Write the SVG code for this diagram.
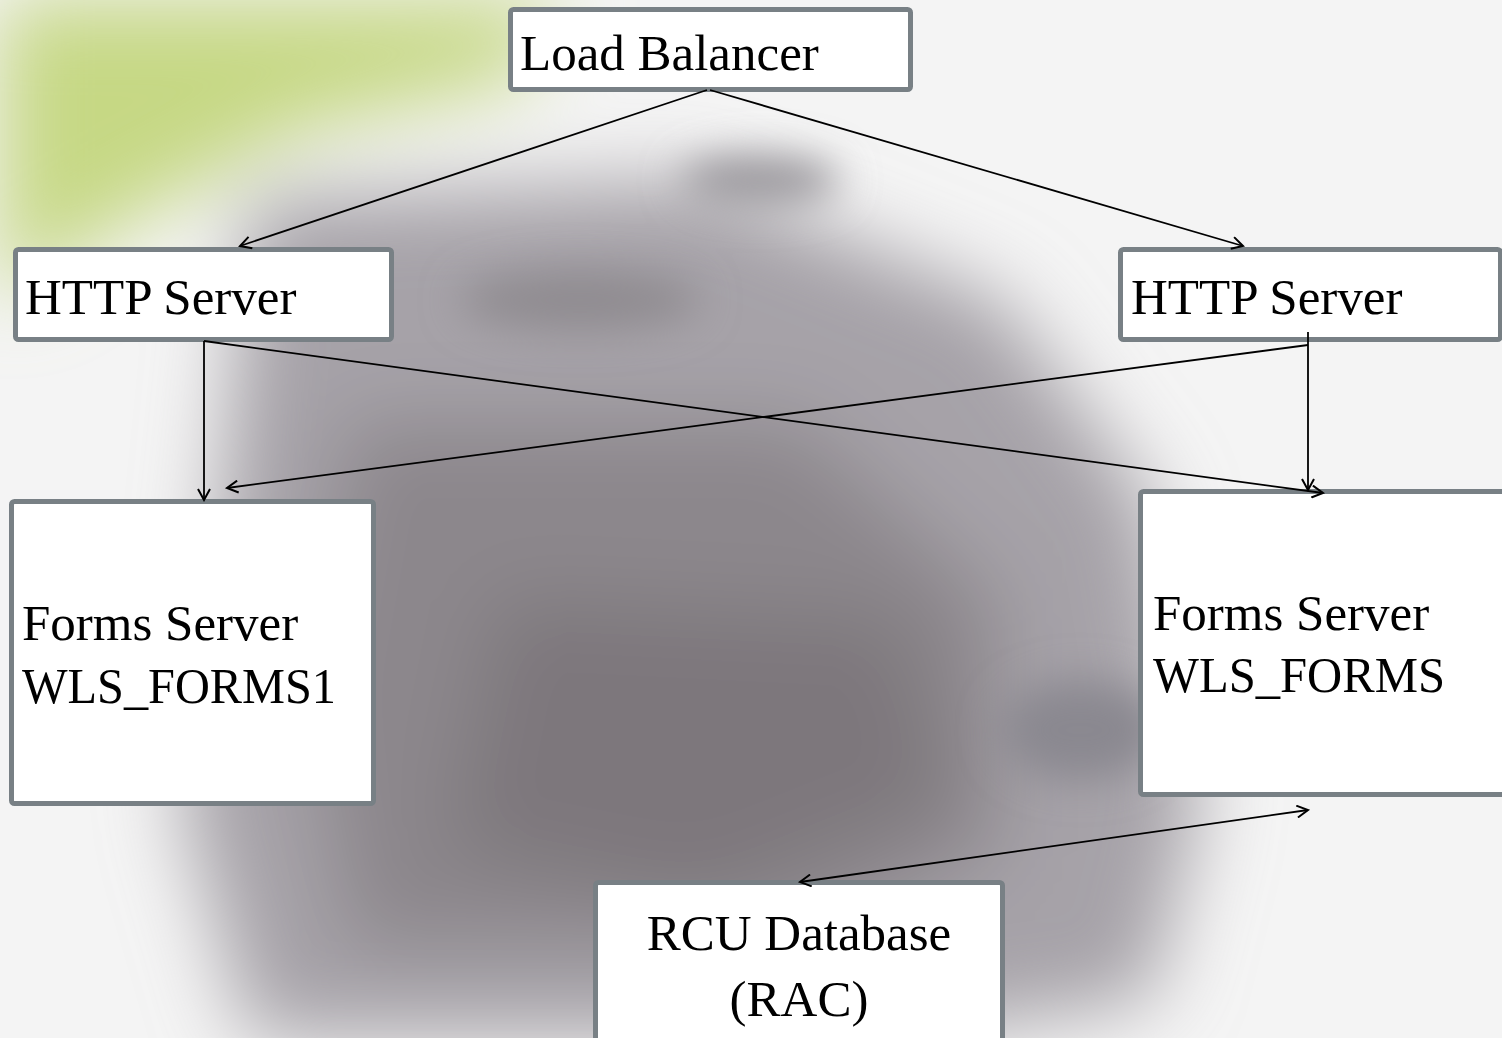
<svg xmlns="http://www.w3.org/2000/svg" width="1502" height="1038" viewBox="0 0 1502 1038">
<defs>
<style>
.box{fill:#ffffff;stroke:#788085;stroke-width:5}
.lbl{font-family:"Liberation Serif","DejaVu Serif",serif;font-size:51px;fill:#000}
.edge{stroke:#000;stroke-width:1.8;fill:none}
</style>
<filter id="blur" x="-30%" y="-30%" width="160%" height="160%"><feGaussianBlur stdDeviation="40"/></filter>
<filter id="blur2" x="-30%" y="-30%" width="160%" height="160%"><feGaussianBlur stdDeviation="20"/></filter>
<marker id="arr" viewBox="0 0 14 14" refX="12" refY="7" markerWidth="14" markerHeight="14" markerUnits="userSpaceOnUse" orient="auto-start-reverse">
<path d="M1,1 L12,7 L1,13" fill="none" stroke="#000" stroke-width="2"/>
</marker>
</defs>
<g id="background">
<rect width="1502" height="1038" fill="#f4f4f4"/>
<g filter="url(#blur)">
<path d="M0,0 L560,0 L520,80 L300,130 L130,220 L0,300 Z" fill="#c6d884"/>
<path d="M250,200 L700,180 L1000,300 L1150,500 L1200,800 L1150,1000 L900,1038 L250,1038 L180,800 L220,500 Z" fill="#a6a2a8"/>
<path d="M350,420 L800,420 L1000,600 L1000,850 L800,950 L350,950 L300,700 Z" fill="#8c878c"/>
<path d="M500,600 L900,620 L950,800 L700,900 L450,850 Z" fill="#7d777b"/>
</g>
<g filter="url(#blur2)">
<ellipse cx="580" cy="300" rx="120" ry="30" fill="#8f8b90"/>
<ellipse cx="760" cy="180" rx="80" ry="25" fill="#9a979c"/>
<ellipse cx="1080" cy="730" rx="80" ry="50" fill="#8a8890"/>
</g>
</g>
<g id="load-balancer">
<rect class="box" x="510.5" y="9.5" width="400" height="80" rx="3"/>
<text class="lbl" x="520" y="70">Load Balancer</text>
</g>
<g id="http-server-1">
<rect class="box" x="15.5" y="249.5" width="376" height="90" rx="3"/>
<text class="lbl" x="25" y="314">HTTP Server</text>
</g>
<g id="http-server-2">
<rect class="box" x="1120.5" y="249.5" width="380" height="90" rx="3"/>
<text class="lbl" x="1131" y="314">HTTP Server</text>
</g>
<g id="forms-server-1">
<rect class="box" x="11.5" y="501.5" width="362" height="302" rx="3"/>
<text class="lbl" x="22" y="640">Forms Server</text>
<text class="lbl" x="22" y="703" textLength="314" lengthAdjust="spacingAndGlyphs">WLS_FORMS1</text>
</g>
<g id="forms-server-2">
<rect class="box" x="1140.5" y="491.5" width="365" height="303" rx="3"/>
<text class="lbl" x="1153" y="630">Forms Server</text>
<text class="lbl" x="1153" y="692" textLength="292" lengthAdjust="spacingAndGlyphs">WLS_FORMS</text>
</g>
<g id="rcu-database">
<rect class="box" x="595.5" y="882.5" width="407" height="170" rx="3"/>
<text class="lbl" x="799" y="950" text-anchor="middle">RCU Database</text>
<text class="lbl" x="799" y="1016" text-anchor="middle">(RAC)</text>
</g>
<g id="connectors">
<line class="edge" x1="707" y1="90" x2="240" y2="246" marker-end="url(#arr)"/>
<line class="edge" x1="710" y1="90" x2="1243" y2="246" marker-end="url(#arr)"/>
<line class="edge" x1="204" y1="341" x2="204" y2="500" marker-end="url(#arr)"/>
<line class="edge" x1="204" y1="341" x2="1323" y2="493" marker-end="url(#arr)"/>
<line class="edge" x1="1308" y1="332" x2="1308" y2="490" marker-end="url(#arr)"/>
<line class="edge" x1="1308" y1="345" x2="227" y2="488" marker-end="url(#arr)"/>
<line class="edge" x1="800" y1="882" x2="1308" y2="810" marker-start="url(#arr)" marker-end="url(#arr)"/>
</g>
</svg>
